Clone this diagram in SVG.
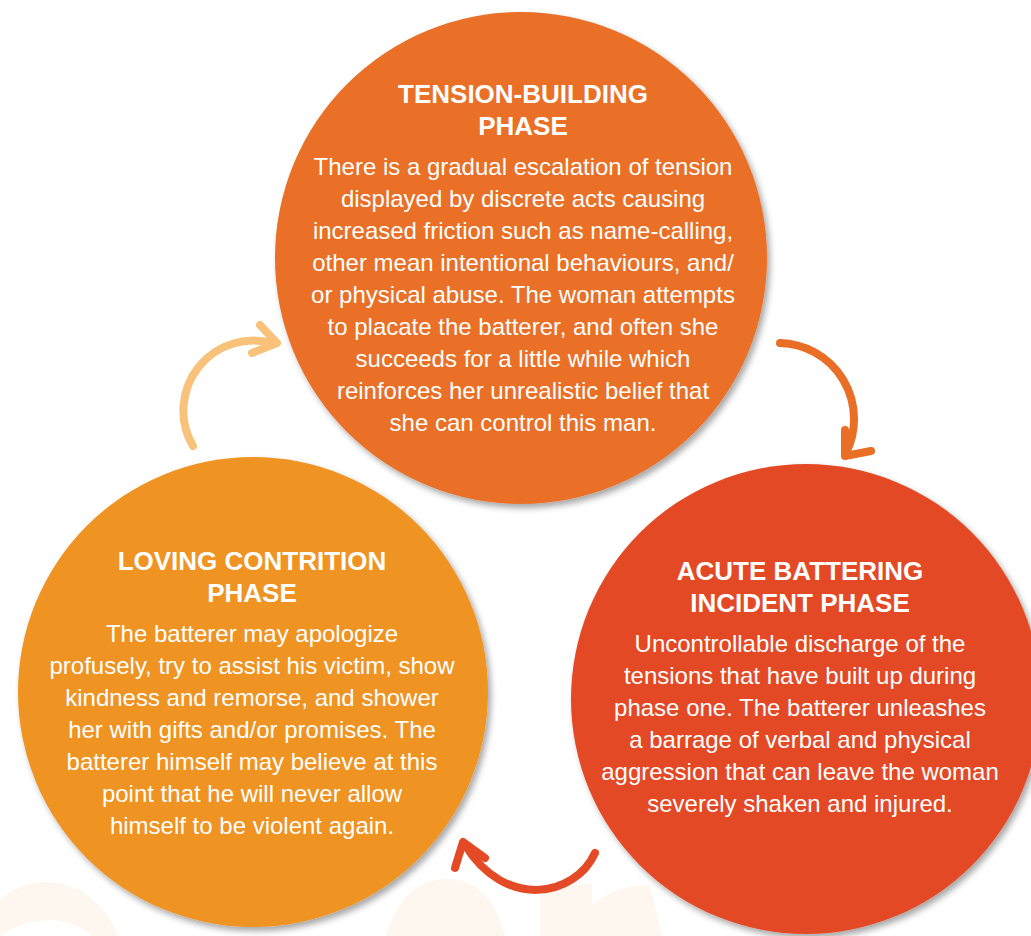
<svg xmlns="http://www.w3.org/2000/svg" width="1031" height="936" viewBox="0 0 1031 936">
  <defs>
    <filter id="shade" x="-10%" y="-10%" width="125%" height="125%">
      <feDropShadow dx="3" dy="4" stdDeviation="3" flood-color="#000" flood-opacity="0.35"/>
    </filter>
    <style>
      .title { font-family: "Liberation Sans", Arial, sans-serif; font-weight: bold; font-size: 26px; fill: #fff; text-anchor: middle; }
      .body { font-family: "Liberation Sans", Arial, sans-serif; font-size: 24px; fill: #fff; text-anchor: middle; }
      .arrow { fill: none; stroke-width: 8; stroke-linecap: round; stroke-linejoin: round; }
      .ghost { fill: #FEF7EF; }
    </style>
  </defs>

  <rect width="1031" height="936" fill="#fff"/>

  <!-- faint background shapes along the bottom edge -->
  <g id="backdrop">
    <path class="ghost" d="M0,900 Q35,870 80,890 Q110,910 118,936 L92,936 Q70,915 30,922 Q10,928 0,936 Z"/>
    <path class="ghost" d="M386,936 Q400,885 440,879 Q490,876 505,936 Z"/>
    <path class="ghost" d="M540,886 L592,884 L592,936 L540,936 Z"/>
    <path class="ghost" d="M592,905 Q615,885 650,885 L662,936 L592,936 Z"/>
  </g>

  <!-- connectors -->
  <g id="connectors">
    <g stroke="#F9C27A" class="arrow">
      <path d="M193,446 A70,70 0 0 1 275,344"/>
      <path d="M260,325 L277,343 L252,353"/>
    </g>
    <g stroke="#E96F26" class="arrow">
      <path d="M780,343 A76,76 0 0 1 846,453"/>
      <path d="M845,430 L845,456 L871,451"/>
    </g>
    <g stroke="#E44A26" class="arrow">
      <path d="M595,853 C575,897 505,910 465,845"/>
      <path d="M485,858 L463,842 L455,868"/>
    </g>
  </g>

  <!-- tension-building phase -->
  <g id="tension-building">
    <circle cx="521" cy="258" r="246" fill="#E96F26" filter="url(#shade)"/>
    <text class="title" x="523" y="103">TENSION-BUILDING</text>
    <text class="title" x="523" y="135">PHASE</text>
    <text class="body" x="523" y="175">There is a gradual escalation of tension</text>
    <text class="body" x="523" y="207">displayed by discrete acts causing</text>
    <text class="body" x="523" y="239">increased friction such as name-calling,</text>
    <text class="body" x="523" y="271">other mean intentional behaviours, and/</text>
    <text class="body" x="523" y="303">or physical abuse. The woman attempts</text>
    <text class="body" x="523" y="335">to placate the batterer, and often she</text>
    <text class="body" x="523" y="367">succeeds for a little while which</text>
    <text class="body" x="523" y="399">reinforces her unrealistic belief that</text>
    <text class="body" x="523" y="431">she can control this man.</text>
  </g>

  <!-- acute battering incident phase -->
  <g id="acute-battering">
    <circle cx="806" cy="699" r="235" fill="#E44A26" filter="url(#shade)"/>
    <text class="title" x="800" y="580">ACUTE BATTERING</text>
    <text class="title" x="800" y="612">INCIDENT PHASE</text>
    <text class="body" x="800" y="652">Uncontrollable discharge of the</text>
    <text class="body" x="800" y="684">tensions that have built up during</text>
    <text class="body" x="800" y="716">phase one. The batterer unleashes</text>
    <text class="body" x="800" y="748">a barrage of verbal and physical</text>
    <text class="body" x="800" y="780">aggression that can leave the woman</text>
    <text class="body" x="800" y="812">severely shaken and injured.</text>
  </g>

  <!-- loving contrition phase -->
  <g id="loving-contrition">
    <circle cx="253" cy="692" r="235" fill="#EF9323" filter="url(#shade)"/>
    <text class="title" x="252" y="570">LOVING CONTRITION</text>
    <text class="title" x="252" y="602">PHASE</text>
    <text class="body" x="252" y="642">The batterer may apologize</text>
    <text class="body" x="252" y="674">profusely, try to assist his victim, show</text>
    <text class="body" x="252" y="706">kindness and remorse, and shower</text>
    <text class="body" x="252" y="738">her with gifts and/or promises. The</text>
    <text class="body" x="252" y="770">batterer himself may believe at this</text>
    <text class="body" x="252" y="802">point that he will never allow</text>
    <text class="body" x="252" y="834">himself to be violent again.</text>
  </g>
</svg>
